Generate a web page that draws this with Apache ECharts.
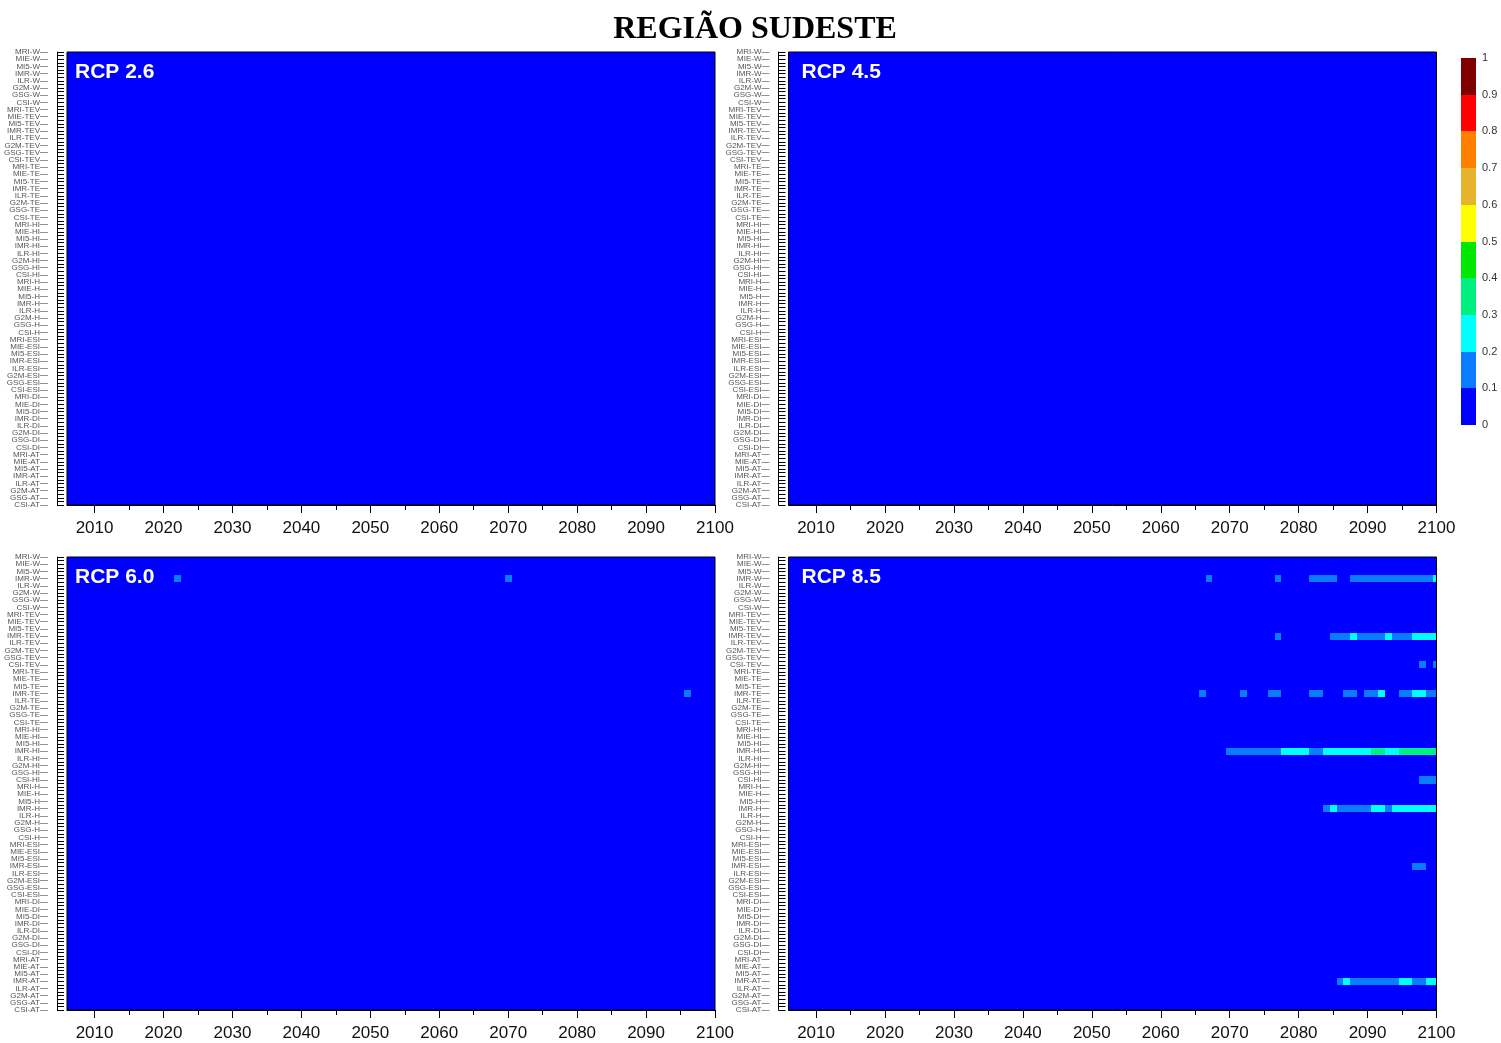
<!DOCTYPE html>
<html>
<head>
<meta charset="utf-8">
<title>Região Sudeste</title>
<script src="https://cdn.jsdelivr.net/npm/echarts@6/dist/echarts.min.js"></script>
<style>
  html, body { margin: 0; padding: 0; background: #ffffff; }
  #chart { width: 1501px; height: 1043px; }
</style>
</head>
<body>
<div id="chart"></div>
<script>
// Row categories: model + index, listed top to bottom
const models = ['MRI', 'MIE', 'MI5', 'IMR', 'ILR', 'G2M', 'GSG', 'CSI'];
const indices = ['W', 'TEV', 'TE', 'HI', 'H', 'ESI', 'DI', 'AT'];
const rowLabels = indices.flatMap(ix => models.map(m => m + '-' + ix));

// Year range and tick labels
const firstYear = 2006;
const lastYear = 2100;
const yearTicks = [2010, 2020, 2030, 2040, 2050, 2060, 2070, 2080, 2090, 2100];
const minorYearTicks = [2015, 2025, 2035, 2045, 2055, 2065, 2075, 2085, 2095];

// Colour classes
const binEdges = [0, 0.1, 0.2, 0.3, 0.4, 0.5, 0.6, 0.7, 0.8, 0.9, 1];
const binColors = ['#0000ff', '#0a7cff', '#00ffff', '#00f080', '#00e800',
                   '#ffff00', '#e6b42c', '#ff8000', '#ff0000', '#800000'];

// Non-zero runs per scenario: [row, first year, last year, value]; all other cells are 0
const rcp26Runs = [];
const rcp45Runs = [];
const rcp60Runs = [
  ['IMR-W', 2022, 2022, 0.15],
  ['IMR-W', 2070, 2070, 0.15],
  ['IMR-TE', 2096, 2096, 0.15]
];
const rcp85Runs = [
  ['IMR-W', 2067, 2067, 0.15], ['IMR-W', 2077, 2077, 0.15], ['IMR-W', 2082, 2085, 0.15],
  ['IMR-W', 2088, 2099, 0.15], ['IMR-W', 2100, 2100, 0.25],
  ['IMR-TEV', 2077, 2077, 0.15], ['IMR-TEV', 2085, 2087, 0.15], ['IMR-TEV', 2088, 2088, 0.25],
  ['IMR-TEV', 2089, 2092, 0.15], ['IMR-TEV', 2093, 2093, 0.25], ['IMR-TEV', 2094, 2096, 0.15],
  ['IMR-TEV', 2097, 2100, 0.25],
  ['CSI-TEV', 2098, 2098, 0.15], ['CSI-TEV', 2100, 2100, 0.15],
  ['IMR-TE', 2066, 2066, 0.15], ['IMR-TE', 2072, 2072, 0.15], ['IMR-TE', 2076, 2077, 0.15],
  ['IMR-TE', 2082, 2083, 0.15], ['IMR-TE', 2087, 2088, 0.15], ['IMR-TE', 2090, 2091, 0.15],
  ['IMR-TE', 2092, 2092, 0.25], ['IMR-TE', 2095, 2096, 0.15], ['IMR-TE', 2097, 2098, 0.25],
  ['IMR-TE', 2099, 2100, 0.15],
  ['IMR-HI', 2070, 2077, 0.15], ['IMR-HI', 2078, 2081, 0.25], ['IMR-HI', 2082, 2083, 0.15],
  ['IMR-HI', 2084, 2090, 0.25], ['IMR-HI', 2091, 2092, 0.35], ['IMR-HI', 2093, 2094, 0.25],
  ['IMR-HI', 2095, 2100, 0.35],
  ['CSI-HI', 2098, 2100, 0.15],
  ['IMR-H', 2084, 2084, 0.15], ['IMR-H', 2085, 2085, 0.25], ['IMR-H', 2086, 2090, 0.15],
  ['IMR-H', 2091, 2092, 0.25], ['IMR-H', 2093, 2093, 0.15], ['IMR-H', 2094, 2100, 0.25],
  ['IMR-ESI', 2097, 2098, 0.15],
  ['IMR-AT', 2086, 2086, 0.15], ['IMR-AT', 2087, 2087, 0.25], ['IMR-AT', 2088, 2094, 0.15],
  ['IMR-AT', 2095, 2096, 0.25], ['IMR-AT', 2097, 2098, 0.15], ['IMR-AT', 2099, 2100, 0.25]
];

const scenarioNames = ['RCP 2.6', 'RCP 4.5', 'RCP 6.0', 'RCP 8.5'];
const scenarioRuns = [rcp26Runs, rcp45Runs, rcp60Runs, rcp85Runs];

// Expand runs into a full grid of [year, row, value] cells
function buildCells(runs) {
  const grid = rowLabels.map(() => {
    const row = {};
    for (let y = firstYear; y <= lastYear; y++) row[y] = 0;
    return row;
  });
  runs.forEach(([label, y0, y1, v]) => {
    const r = rowLabels.indexOf(label);
    for (let y = y0; y <= y1; y++) grid[r][y] = v;
  });
  const cells = [];
  grid.forEach((row, r) => {
    for (let y = firstYear; y <= lastYear; y++) cells.push([y, r, row[y]]);
  });
  return cells;
}

// Panel layout (pixels)
const panelBoxes = [
  { left: 67,    top: 52,  width: 648, height: 453 },
  { left: 788.5, top: 52,  width: 648, height: 453 },
  { left: 67,    top: 557, width: 648, height: 453 },
  { left: 788.5, top: 557, width: 648, height: 453 }
];

// One cell, centred on (year, row), snapped to whole pixels and clipped to the plot
function renderCell(params, api) {
  const x = api.value(0), y = api.value(1);
  const p0 = api.coord([x - 0.5, y - 0.5]);
  const p1 = api.coord([x + 0.5, y + 0.5]);
  const cs = params.coordSys;
  const left = Math.round(Math.max(Math.min(p0[0], p1[0]), cs.x));
  const right = Math.round(Math.min(Math.max(p0[0], p1[0]), cs.x + cs.width));
  const top = Math.round(Math.max(Math.min(p0[1], p1[1]), cs.y));
  const bottom = Math.round(Math.min(Math.max(p0[1], p1[1]), cs.y + cs.height));
  if (right <= left || bottom <= top) return null;
  return {
    type: 'rect',
    shape: { x: left, y: top, width: right - left, height: bottom - top },
    style: { fill: api.visual('color') }
  };
}

function renderBin(params, api) {
  const cs = params.coordSys;
  const pLo = api.coord([0, api.value(0)]);
  const pHi = api.coord([0, api.value(1)]);
  const top = Math.round(pHi[1]), bottom = Math.round(pLo[1]);
  return {
    type: 'rect',
    shape: { x: Math.round(cs.x), y: top, width: Math.round(cs.width), height: bottom - top },
    style: { fill: api.visual('color') }
  };
}

const grids = [], xAxes = [], yAxes = [], series = [], graphics = [];
const labelFont = 'Arial, "Liberation Sans", sans-serif';
const nPanels = panelBoxes.length;

panelBoxes.forEach((box, p) => {
  grids.push(Object.assign({
    show: true, borderColor: '#000', borderWidth: 1,
    backgroundColor: 'transparent', z: 4
  }, box));

  // main x axis with labels and major ticks
  xAxes.push({
    gridIndex: p, type: 'value', min: firstYear, max: lastYear, position: 'bottom', z: 5,
    axisLine: { show: true, onZero: false, lineStyle: { color: '#000', width: 1 } },
    axisTick: { show: true, customValues: yearTicks, length: 8, lineStyle: { color: '#000' } },
    axisLabel: { customValues: yearTicks, fontSize: 17, color: '#111', margin: 15,
                 fontFamily: labelFont, formatter: v => String(v) },
    splitLine: { show: false }
  });
  // minor x ticks every five years, drawn along the bottom edge
  xAxes.push({
    gridIndex: p, type: 'value', min: firstYear, max: lastYear, position: 'top',
    offset: -box.height, z: 5,
    axisLine: { show: false, onZero: false },
    axisTick: { show: true, inside: true, customValues: minorYearTicks, length: 5,
                lineStyle: { color: '#000' } },
    axisLabel: { show: false },
    splitLine: { show: false }
  });

  // row labels (y axes 0..3)
  yAxes.push({
    gridIndex: p, type: 'category', data: rowLabels, boundaryGap: false,
    inverse: true, position: 'left', offset: 10, z: 5,
    axisLine: { show: true, onZero: false, lineStyle: { color: '#000', width: 1 } },
    axisTick: { show: false },
    axisLabel: {
      interval: 0, fontSize: 8, color: '#555', margin: 17, fontFamily: labelFont
    },
    splitLine: { show: false }
  });
});

// row position axis: inward ticks at every row and half row (y axes 4..7); cells are placed on it
panelBoxes.forEach((box, p) => {
  yAxes.push({
    gridIndex: p, type: 'value', min: 0, max: rowLabels.length - 1, interval: 0.5,
    inverse: true, position: 'left', offset: 10, z: 5,
    axisLine: { show: false, onZero: false },
    axisTick: { show: true, inside: true, length: 7, lineStyle: { color: '#000' } },
    axisLabel: { show: false },
    splitLine: { show: false }
  });
});

// outward dash ticks beside the row labels (y axes 8..11)
panelBoxes.forEach((box, p) => {
  yAxes.push({
    gridIndex: p, type: 'value', min: 0, max: rowLabels.length - 1, interval: 1,
    inverse: true, position: 'left', offset: 19, z: 5,
    axisLine: { show: false, onZero: false },
    axisTick: { show: true, inside: false, length: 8, lineStyle: { color: '#777', width: 0.8 } },
    axisLabel: { show: false },
    splitLine: { show: false }
  });
});

panelBoxes.forEach((box, p) => {
  series.push({
    type: 'custom', name: scenarioNames[p],
    xAxisIndex: 2 * p, yAxisIndex: nPanels + p,
    renderItem: renderCell,
    data: buildCells(scenarioRuns[p]),
    animation: false, silent: true
  });

  graphics.push({
    type: 'text', z: 100,
    x: box.left + (p % 2 === 0 ? 8 : 13), y: box.top + 20,
    style: {
      text: scenarioNames[p], fill: '#ffffff',
      font: 'bold 21px Arial, "Liberation Sans", sans-serif',
      textVerticalAlign: 'middle'
    }
  });
});

// colour bar
const barGrid = grids.length;
grids.push({ left: 1461, top: 58, width: 15, height: 367 });
xAxes.push({ gridIndex: barGrid, type: 'value', min: 0, max: 1, show: false });
yAxes.push({
  gridIndex: barGrid, type: 'value', min: 0, max: 1, interval: 0.1, position: 'right',
  axisLine: { show: false, onZero: false }, axisTick: { show: false }, splitLine: { show: false },
  axisLabel: { fontSize: 11, color: '#333', margin: 6, fontFamily: labelFont,
               formatter: v => String(+v.toFixed(1)) }
});
series.push({
  type: 'custom', name: 'escala',
  xAxisIndex: xAxes.length - 1, yAxisIndex: yAxes.length - 1,
  renderItem: renderBin,
  data: binColors.map((c, i) => [binEdges[i], binEdges[i + 1], (binEdges[i] + binEdges[i + 1]) / 2]),
  animation: false, silent: true
});

graphics.push({
  type: 'text', z: 100, x: 755, y: 30,
  style: {
    text: 'REGIÃO SUDESTE', fill: '#000',
    font: 'bold 32px "Liberation Serif", "Times New Roman", serif',
    textAlign: 'center', textVerticalAlign: 'middle'
  }
});

const pieces = binColors.map((c, i) => (
  i === binColors.length - 1
    ? { gte: binEdges[i], lte: binEdges[i + 1], color: c }
    : { gte: binEdges[i], lt: binEdges[i + 1], color: c }
));

const chart = echarts.init(document.getElementById('chart'), null, { renderer: 'canvas' });
chart.setOption({
  backgroundColor: '#ffffff',
  animation: false,
  grid: grids,
  xAxis: xAxes,
  yAxis: yAxes,
  visualMap: {
    type: 'piecewise', show: false, dimension: 2,
    seriesIndex: series.map((s, i) => i),
    pieces: pieces
  },
  graphic: { elements: graphics },
  series: series
});
</script>
</body>
</html>
